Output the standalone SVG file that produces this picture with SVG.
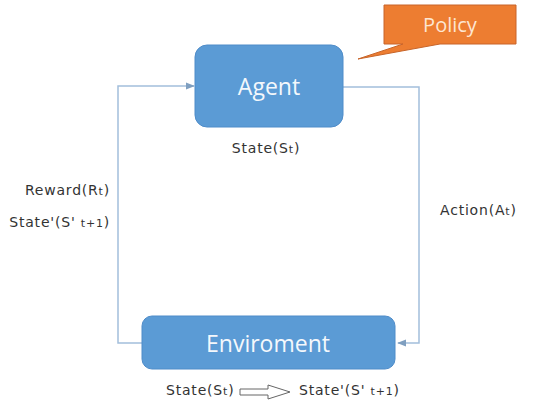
<svg xmlns="http://www.w3.org/2000/svg" width="536" height="410" viewBox="0 0 536 410">
  <style>
    .box { fill: #5b9bd5; stroke: #4f8cc9; stroke-width: 1; }
    .boxlabel { font-family: "Open Sans", "Noto Sans", sans-serif; font-size: 23px; fill: #f4f8fc; text-anchor: middle; }
    .lbl { font-family: "DejaVu Sans", "Noto Sans", sans-serif; font-size: 14px; letter-spacing: 0.8px; fill: #333; }
    .sub { font-size: 11px; }
    .conn { fill: none; stroke: #a3bfdc; stroke-width: 1.5; }
  </style>
  <defs>
    <marker id="arr" viewBox="0 0 10 10" refX="9" refY="5" markerWidth="6" markerHeight="6" orient="auto">
      <path d="M0,1 L10,5 L0,9 z" fill="#7f9fc0"/>
    </marker>
  </defs>
  <rect width="536" height="410" fill="#ffffff"/>

  <g id="connectors">
    <!-- Agent -> Enviroment (action) -->
    <polyline class="conn" points="343,87 419,87 419,343 398,343" marker-end="url(#arr)"/>
    <!-- Enviroment -> Agent (reward / next state) -->
    <polyline class="conn" points="142,343 118,343 118,86 194,86" marker-end="url(#arr)"/>
  </g>

  <g id="agent">
    <rect class="box" x="195" y="45" width="148" height="82" rx="12"/>
    <text class="boxlabel" x="269" y="95">Agent</text>
  </g>

  <g id="policy">
    <path d="M384,5 H516 V44 H440 L358,59 L403,44 H384 Z" fill="#ed7d31" stroke="#c8652a" stroke-width="1"/>
    <text x="450" y="32" font-family="Open Sans, Noto Sans, sans-serif" font-size="20" fill="#fde6d2" text-anchor="middle">Policy</text>
  </g>

  <g id="enviroment">
    <rect class="box" x="142" y="316" width="253" height="53" rx="10"/>
    <text class="boxlabel" x="268" y="352">Enviroment</text>
  </g>

  <g id="labels">
    <text class="lbl" x="266" y="153" text-anchor="middle">State(S<tspan class="sub">t</tspan>)</text>
    <text class="lbl" x="110" y="195" text-anchor="end">Reward(R<tspan class="sub">t</tspan>)</text>
    <text class="lbl" x="110" y="227" text-anchor="end">State'(S' <tspan class="sub">t+1</tspan>)</text>
    <text class="lbl" x="440" y="215">Action(A<tspan class="sub">t</tspan>)</text>
    <text class="lbl" x="166" y="395">State(S<tspan class="sub">t</tspan>)</text>
    <path d="M240,389 H268 V385 L290,392 L268,399 V395 H240 Z" fill="none" stroke="#666" stroke-width="1"/>
    <text class="lbl" x="299" y="395">State'(S' <tspan class="sub">t+1</tspan>)</text>
  </g>
</svg>
